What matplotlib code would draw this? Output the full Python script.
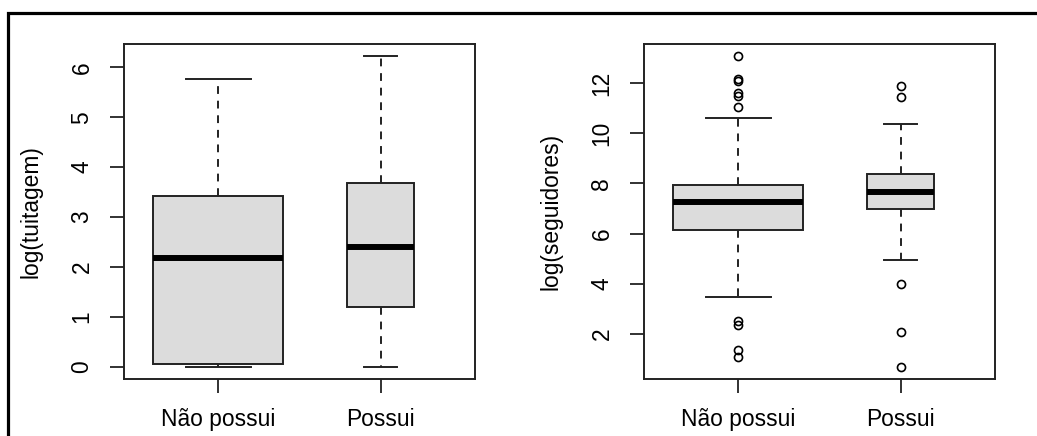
import matplotlib
matplotlib.use("Agg")
import matplotlib.pyplot as plt
from matplotlib.patches import Rectangle

plt.rcParams['font.family'] = ['Liberation Sans', 'DejaVu Sans']

grupos = ['Não possui', 'Possui']

# log(tuitagem)
tuit_whislo = [0.0, 0.0]
tuit_q1 = [0.05, 1.19]
tuit_med = [2.17, 2.40]
tuit_q3 = [3.43, 3.69]
tuit_whishi = [5.76, 6.22]
tuit_fliers = [[], []]

# log(seguidores)
seg_whislo = [3.45, 4.94]
seg_q1 = [6.15, 6.97]
seg_med = [7.26, 7.66]
seg_q3 = [7.95, 8.37]
seg_whishi = [10.62, 10.38]
seg_fliers = [[13.07, 12.18, 12.08, 11.60, 11.48, 11.04, 2.52, 2.36, 1.36, 1.07],
              [11.90, 11.44, 3.99, 2.08, 0.69]]

# largura das caixas (varwidth, como no R)
larguras = [0.8, 0.41]

W, H = 1037, 436
fig = plt.figure(figsize=(W / 100, H / 100), dpi=100)

# moldura da figura (corta na direita e embaixo)
fig.patches.append(Rectangle((8 / W, -0.2), 1.5, 1.2 - 12.5 / H,
                             transform=fig.transFigure, fill=False,
                             edgecolor='black', linewidth=2.3, zorder=10))


def make_stats(wlo, q1, med, q3, whi, fl):
    out = []
    for i in range(len(med)):
        out.append(dict(whislo=wlo[i], q1=q1[i], med=med[i], q3=q3[i],
                        whishi=whi[i], fliers=fl[i]))
    return out


def desenha(ax, stats, ylabel, yticks):
    ax.bxp(stats, positions=[1, 2], widths=larguras, patch_artist=True,
           boxprops=dict(facecolor='#dcdcdc', edgecolor='#222222', linewidth=1.4),
           medianprops=dict(color='black', linewidth=4.3, solid_capstyle='butt'),
           whiskerprops=dict(color='#222222', linewidth=1.4, linestyle=(0, (4, 3.5))),
           capprops=dict(color='#222222', linewidth=1.4),
           capwidths=[w / 2 for w in larguras],
           flierprops=dict(marker='o', markerfacecolor='none', markeredgecolor='black',
                           markersize=5.8, markeredgewidth=1.2, linestyle='none'))
    allv = []
    for s in stats:
        allv += [s['whislo'], s['whishi']] + list(s['fliers'])
    lo, hi = min(allv), max(allv)
    r = hi - lo
    ax.set_ylim(lo - 0.04 * r, hi + 0.04 * r)
    ax.set_xlim(0.42, 2.58)
    ax.set_xticks([1, 2])
    ax.set_xticklabels(grupos, fontsize=16.4)
    ax.set_yticks(yticks)
    ax.set_yticklabels([str(t) for t in yticks], fontsize=16.4, rotation=90, va='center')
    ax.set_ylabel(ylabel, fontsize=16.4, labelpad=20)
    ax.tick_params(axis='both', length=10, width=1.3, color='#222222')
    ax.tick_params(axis='x', pad=11)
    ax.tick_params(axis='y', pad=12)
    for sp in ax.spines.values():
        sp.set_linewidth(1.4)
        sp.set_color('#222222')


ax1 = fig.add_axes([124 / W, (H - 379) / H, 351 / W, 335 / H])
desenha(ax1, make_stats(tuit_whislo, tuit_q1, tuit_med, tuit_q3, tuit_whishi, tuit_fliers),
        'log(tuitagem)', [0, 1, 2, 3, 4, 5, 6])

ax2 = fig.add_axes([644 / W, (H - 379) / H, 351 / W, 335 / H])
desenha(ax2, make_stats(seg_whislo, seg_q1, seg_med, seg_q3, seg_whishi, seg_fliers),
        'log(seguidores)', [2, 4, 6, 8, 10, 12])

fig.savefig('out.png', dpi=100)
